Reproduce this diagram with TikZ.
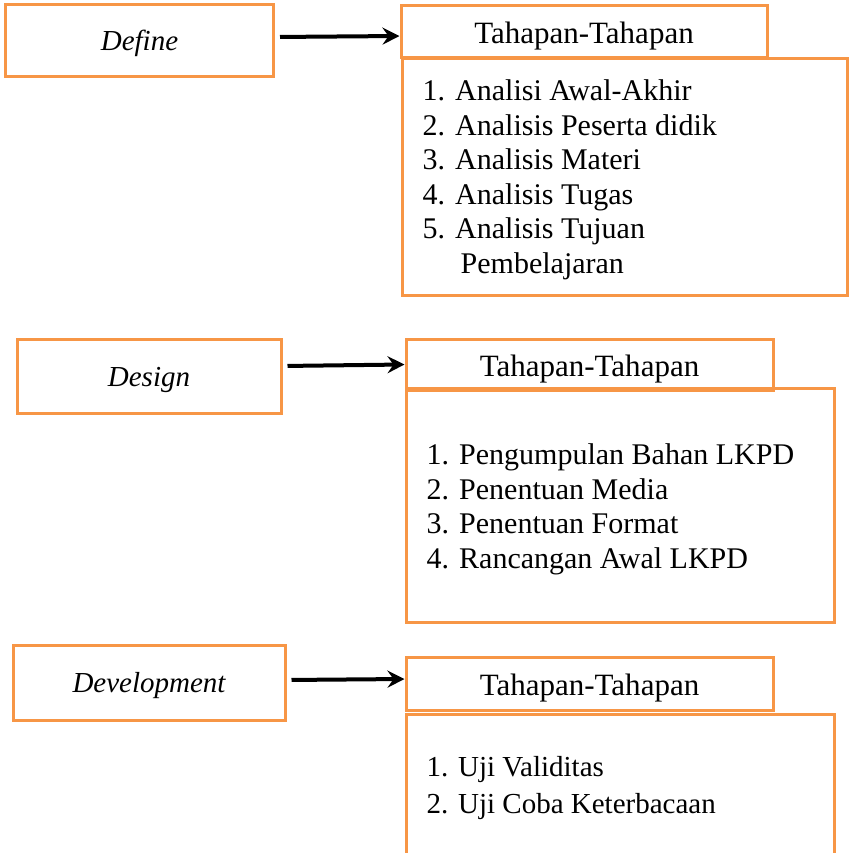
\documentclass[tikz,border=0pt]{standalone}
\usepackage{fontspec}
\setmainfont{Liberation Serif}
\usetikzlibrary{arrows.meta,positioning}
\definecolor{boxorange}{HTML}{F79646}

\begin{document}
\begin{tikzpicture}[x=1pt, y=-1pt,
  stage/.style={draw=boxorange, line width=3pt, minimum width=268pt, minimum height=72pt, text height=22pt, text depth=2pt, font=\fontsize{29}{33}\selectfont\itshape},
  head/.style={draw=boxorange, line width=3pt, minimum width=366pt, minimum height=52pt, text height=26pt, text depth=2pt, font=\fontsize{31}{36}\selectfont},
  body/.style={draw=boxorange, line width=3pt},
  list/.style={anchor=north west, inner sep=0pt, align=left, font=\fontsize{30}{34.5}\selectfont},
  flow/.style={-{Stealth[length=17pt, width=17pt, inset=6pt]}, line width=4pt, shorten <=5pt}]

  \useasboundingbox (0,0) rectangle (850,853);
  \clip (0,0) rectangle (850,853);

  % Define row
  \node[stage] (def) at (139.5,41) {Define};
  \node[body, minimum width=445pt, minimum height=236pt] (defbody) at (624.5,177) {};
  \node[head] (defhead) at (584,32) {Tahapan-Tahapan};
  \node[list] (deflist) at ([xshift=22pt, yshift=-22pt]defbody.north west) {1. Analisi Awal-Akhir\\2. Analisis Peserta didik\\3. Analisis Materi\\4. Analisis Tugas\\5. Analisis Tujuan\\\hspace*{38pt}Pembelajaran};

  % Design row
  \node[stage, minimum width=264pt, minimum height=74pt] (des) at (149,376) {Design};
  \node[body, minimum width=428pt, minimum height=234pt] (desbody) at (620,505) {};
  \node[head, minimum width=367pt, minimum height=51pt] (deshead) at (589.5,364.5) {Tahapan-Tahapan};
  \node[list] (deslist) at ([xshift=22pt, yshift=-57pt]desbody.north west) {1. Pengumpulan Bahan LKPD\\2. Penentuan Media\\3. Penentuan Format\\4. Rancangan Awal LKPD};

  % Development row
  \node[stage, minimum width=272pt, minimum height=75pt] (dev) at (149,682.5) {Development};
  \node[body, minimum width=428pt, minimum height=172pt] (devbody) at (620,800) {};
  \node[head, minimum width=367pt, minimum height=53pt] (devhead) at (589.5,683.5) {Tahapan-Tahapan};
  \node[list, font=\fontsize{29}{37}\selectfont] (devlist) at ([xshift=22pt, yshift=-44pt]devbody.north west) {1. Uji Validitas\\2. Uji Coba Keterbacaan};

  % Arrows
  \draw[flow] ([yshift=4pt]def.east) -- ([yshift=-4pt]defhead.west);
  \draw[flow] ([yshift=10pt]des.east) -- (deshead.west);
  \draw[flow] ([yshift=2.5pt]dev.east) -- ([yshift=4.5pt]devhead.west);

\end{tikzpicture}
\end{document}
